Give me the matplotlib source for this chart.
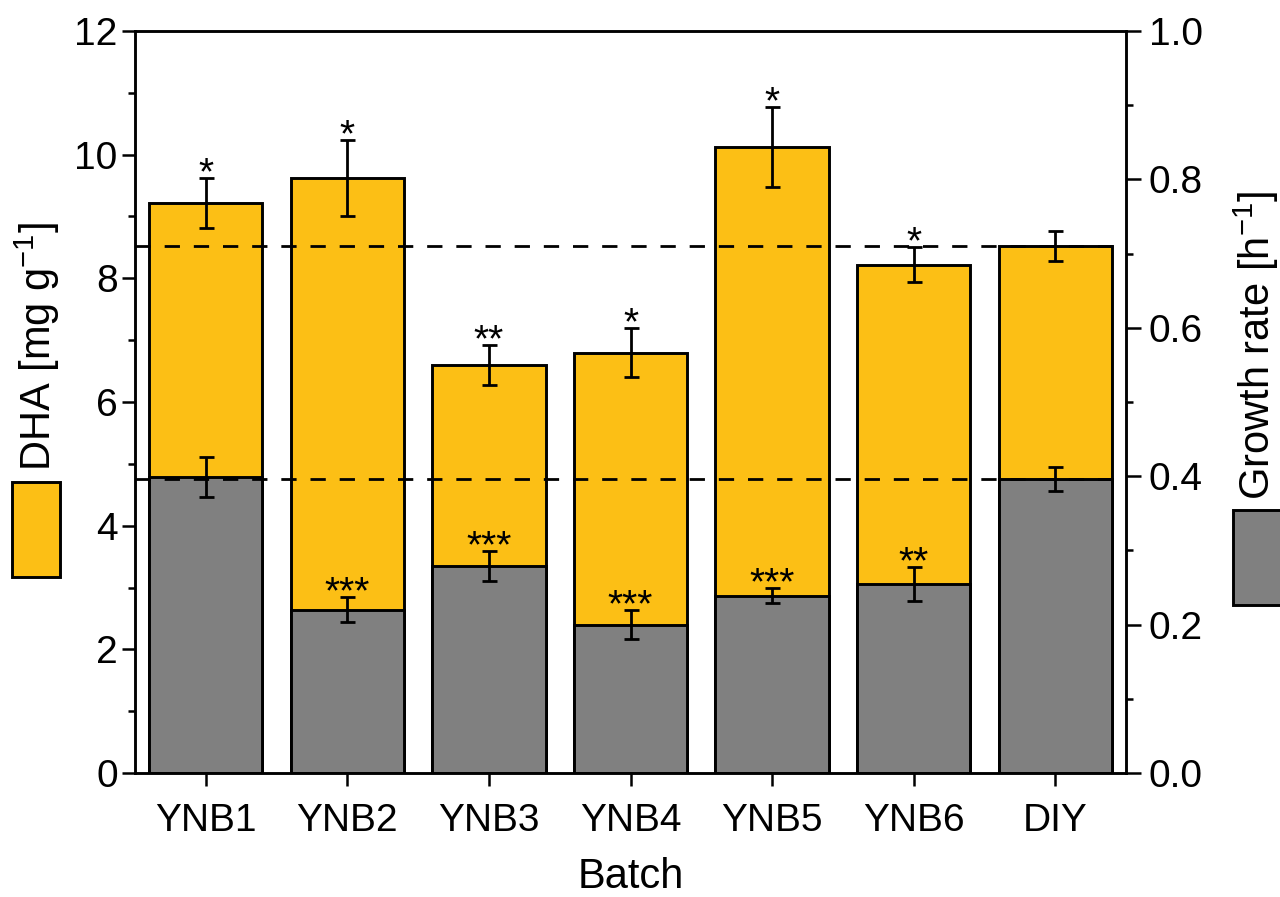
import matplotlib
matplotlib.use("Agg")
import matplotlib.pyplot as plt
from matplotlib.patches import Rectangle
from matplotlib.ticker import MultipleLocator
import numpy as np

# Batches and measured values
batches = ["YNB1", "YNB2", "YNB3", "YNB4", "YNB5", "YNB6", "DIY"]
dha = [9.22, 9.62, 6.60, 6.80, 10.12, 8.22, 8.52]          # mg g^-1
dha_err = [0.40, 0.61, 0.32, 0.39, 0.65, 0.28, 0.24]
dha_sig = ["*", "*", "**", "*", "*", "*", ""]
growth = [0.399, 0.220, 0.279, 0.200, 0.239, 0.255, 0.396]  # h^-1
growth_err = [0.027, 0.017, 0.020, 0.020, 0.010, 0.023, 0.016]
growth_sig = ["", "***", "***", "***", "***", "**", ""]

plt.rcParams["font.family"] = ["Liberation Sans", "DejaVu Sans"]
plt.rcParams["mathtext.default"] = "regular"

YELLOW = "#FCBF15"
GREY = "#808080"
LW_BAR = 2.1
LW_ERR = 2.0
LW_AX = 1.8
TICK_FS = 28
LABEL_FS = 30
STAR_FS = 28

W, H = 1280, 897
fig = plt.figure(figsize=(W / 100, H / 100), dpi=100)
ax = fig.add_axes([135 / W, 1 - 773 / H, (1126 - 135) / W, (773 - 31) / H])
ax2 = ax.twinx()

x = np.arange(len(batches))

# DHA content (left axis)
ax.bar(x, dha, width=0.8, color=YELLOW, edgecolor="black", linewidth=LW_BAR, zorder=2)
ax.errorbar(x, dha, yerr=dha_err, fmt="none", ecolor="black", elinewidth=LW_ERR,
            capsize=5.4, capthick=LW_ERR, zorder=3)
ax.axhline(dha[-1], color="black", lw=2.0, dashes=(5.5, 5), zorder=4)

# Growth rate (right axis), drawn in front
ax2.bar(x, growth, width=0.8, color=GREY, edgecolor="black", linewidth=LW_BAR, zorder=2)
ax2.errorbar(x, growth, yerr=growth_err, fmt="none", ecolor="black", elinewidth=LW_ERR,
             capsize=5.4, capthick=LW_ERR, zorder=3)
ax2.axhline(growth[-1], color="black", lw=2.0, dashes=(5.5, 5), zorder=4)

# Significance markers above the error bars
for xi, v, e, s in zip(x, dha, dha_err, dha_sig):
    if s:
        ax.annotate(s, (xi, v + e), xytext=(0, -4.5), textcoords="offset points",
                    ha="center", va="baseline", fontsize=STAR_FS, zorder=5)
for xi, v, e, s in zip(x, growth, growth_err, growth_sig):
    if s:
        ax2.annotate(s, (xi, v + e), xytext=(0, -4.5), textcoords="offset points",
                     ha="center", va="baseline", fontsize=STAR_FS, zorder=5)

# Axes limits and ticks
ax.set_xlim(-0.5, 6.5)
ax.set_ylim(0, 12)
ax2.set_ylim(0, 1.0)
ax.set_xticks(x)
ax.set_xticklabels(batches)
ax.yaxis.set_major_locator(MultipleLocator(2))
ax.yaxis.set_minor_locator(MultipleLocator(1))
ax2.yaxis.set_major_locator(MultipleLocator(0.2))
ax2.yaxis.set_minor_locator(MultipleLocator(0.1))

for a in (ax, ax2):
    for sp in a.spines.values():
        sp.set_linewidth(LW_AX)

ax.tick_params(axis="both", which="major", direction="out", length=9.5, width=LW_AX,
               labelsize=TICK_FS, top=False, right=False)
ax.tick_params(axis="y", which="minor", direction="out", length=5, width=LW_AX, right=False)
ax.tick_params(axis="x", pad=12)
ax.tick_params(axis="y", pad=3)
ax2.tick_params(axis="y", which="major", direction="out", length=10.5, width=LW_AX,
                labelsize=TICK_FS, pad=6)
ax2.tick_params(axis="y", which="minor", direction="out", length=5, width=LW_AX)

ax.set_xlabel("Batch", fontsize=LABEL_FS, labelpad=13)

# Axis titles with colour keys
fig.text(37 / W, 1 - 347 / H, "DHA [mg g$^{-1}$]", rotation=90, ha="center", va="center",
         fontsize=LABEL_FS)
fig.text(1256 / W, 1 - 345 / H, "Growth rate [h$^{-1}$]", rotation=90, ha="center",
         va="center", fontsize=LABEL_FS)
fig.add_artist(Rectangle((12 / W, 1 - 577 / H), 48 / W, 95 / H, transform=fig.transFigure,
                         facecolor=YELLOW, edgecolor="black", linewidth=LW_BAR))
fig.add_artist(Rectangle((1233 / W, 1 - 605 / H), 48 / W, 95 / H, transform=fig.transFigure,
                         facecolor=GREY, edgecolor="black", linewidth=LW_BAR))

fig.savefig("out.png", dpi=100)
